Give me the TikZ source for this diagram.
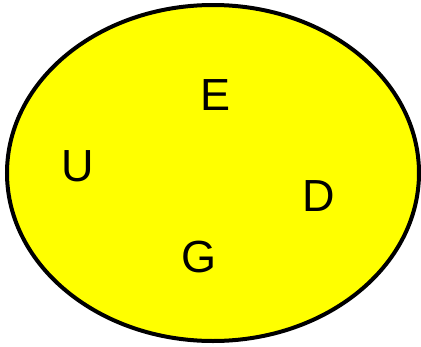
\documentclass[tikz,border=0pt]{standalone}
\usepackage{fontspec}
\setmainfont{Liberation Sans}
\usetikzlibrary{shapes.geometric}
\definecolor{setyellow}{RGB}{255,255,0}
\begin{document}
\begin{tikzpicture}[x=1pt,y=-1pt,
  lbl/.style={inner sep=0pt,font=\fontsize{45}{45}\selectfont}]
\useasboundingbox (0,0) rectangle (421,346);
\node[draw=black,line width=4pt,fill=setyellow,ellipse,inner sep=0pt,
  minimum width=412pt,minimum height=336pt] (set) at (213,173) {};
\node[lbl] (e) at (216,95) {E};
\node[lbl] (u) at (78,166) {U};
\node[lbl] (d) at (319,196) {D};
\node[lbl] (g) at (199,257) {G};
\end{tikzpicture}
\end{document}
